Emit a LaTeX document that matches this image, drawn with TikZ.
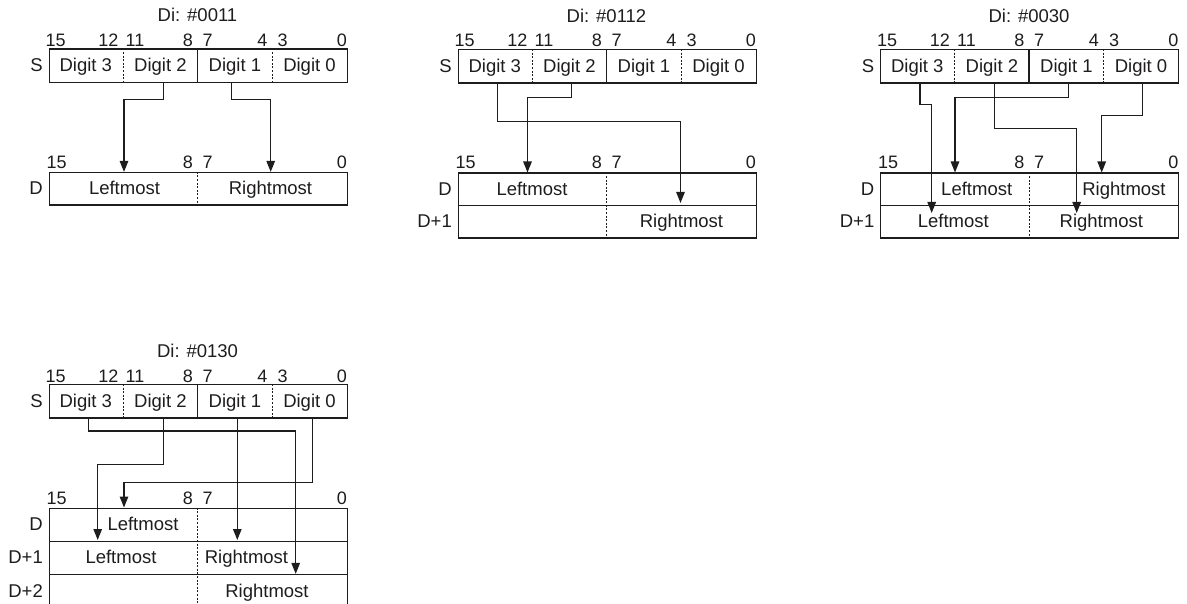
\documentclass[tikz,border=0pt]{standalone}
\usepackage{fontspec}
\setmainfont{Liberation Sans}
\usetikzlibrary{arrows.meta}
\definecolor{ink}{RGB}{30,28,28}
\tikzset{
  every node/.style={font=\fontsize{18.5}{21}\selectfont, text=ink},
  ln/.style={draw=ink, line width=1.3pt},
  regbox/.style={draw=ink, line width=1.3pt, minimum width=298pt, minimum height=33.3pt, anchor=north west, inner sep=0},
  rowbox/.style={draw=ink, line width=1.3pt, minimum width=298pt, anchor=north west, inner sep=0},
  cell/.style={minimum width=74.5pt, minimum height=33.3pt, inner sep=0, text height=13.2pt, text depth=0pt},
  txt/.style={inner sep=0, text height=13.2pt, text depth=0pt},
  bit/.style={inner sep=0, font=\fontsize{18}{20}\selectfont},
  div/.style={draw=ink, line width=1pt, dash pattern=on 2pt off 1.6pt},
  conn/.style={draw=ink, line width=1.2pt, -{Triangle[length=11pt,width=8.5pt]}},
}
% S register: #1 prefix, #2 title
\newcommand\SregDraw[2]{%
  \node[inner sep=0, anchor=base] (#1-title) at (149,-26.5) {#2};
  \node[regbox] (#1-S) at (0,0) {};
  \node[cell] (#1-d3) at (37.3,16.65) {Digit 3};
  \node[cell] (#1-d2) at (111.9,16.65) {Digit 2};
  \node[cell] (#1-d1) at (186.4,16.65) {Digit 1};
  \node[cell] (#1-d0) at (261,16.65) {Digit 0};
  \draw[div] (74.5,0) -- (74.5,33.3);
  \draw[ln] (149,0) -- (149,33.3);
  \draw[div] (223.5,0) -- (223.5,33.3);
  \node[txt, anchor=east] (#1-Slab) at (-5.5,16.65) {S};
  \node[bit, anchor=base west] (#1-s15) at (-3,-2) {15};
  \node[bit, anchor=base east] (#1-s12) at (70,-2) {12};
  \node[bit, anchor=base west] (#1-s11) at (77,-2) {11};
  \node[bit, anchor=base east] (#1-s8) at (144.5,-2) {8};
  \node[bit, anchor=base west] (#1-s7) at (154,-2) {7};
  \node[bit, anchor=base east] (#1-s4) at (219,-2) {4};
  \node[bit, anchor=base west] (#1-s3) at (229,-2) {3};
  \node[bit, anchor=base east] (#1-s0) at (298.5,-2) {0};
  \node[bit, anchor=base west] (#1-b15) at (-2,120) {15};
  \node[bit, anchor=base east] (#1-b8) at (144.5,120) {8};
  \node[bit, anchor=base west] (#1-b7) at (154,120) {7};
  \node[bit, anchor=base east] (#1-b0) at (298.5,120) {0};
}
\begin{document}
\begin{tikzpicture}[x=1pt,y=-1pt]
\useasboundingbox (0,0) rectangle (1187,604);

% ---------- Diagram A ----------
\begin{scope}[shift={(48.5,48.4)}]
  \SregDraw{A}{Di: \#0011}
  \node[rowbox, minimum height=32.5pt] (A-r0) at (0,123.5) {};
  \draw[div] (149,123.5) -- (149,156);
  \node[txt, anchor=east] (A-l0) at (-5.5,139.75) {D};
  \node[txt] (A-lm) at (76,139.75) {Leftmost};
  \node[txt] (A-rm) at (222,139.75) {Rightmost};
  \coordinate (A-t2) at (75.5,123.5);
  \coordinate (A-t1) at (222.2,123.5);
  \draw[conn] ([xshift=2.9pt]A-d2.south) -- ++(0,17.5) -| (A-t2);
  \draw[conn] ([xshift=-3.4pt]A-d1.south) -- ++(0,17.5) -| (A-t1);
\end{scope}

% ---------- Diagram B ----------
\begin{scope}[shift={(457.5,49)}]
  \SregDraw{B}{Di: \#0112}
  \node[rowbox, minimum height=32.5pt] (B-r0) at (0,123.5) {};
  \node[rowbox, minimum height=32.5pt] (B-r1) at (0,156) {};
  \draw[div] (149,123.5) -- (149,188.5);
  \node[txt, anchor=east] (B-l0) at (-5.5,139.75) {D};
  \node[txt, anchor=east] (B-l1) at (-5.5,172.25) {D+1};
  \node[txt] (B-lm) at (74.5,139.75) {Leftmost};
  \node[txt] (B-rm) at (224,172.25) {Rightmost};
  \coordinate (B-t3) at (223,154);
  \coordinate (B-t2) at (70,123.5);
  \draw[conn] ([xshift=2.3pt]B-d3.south) -- ++(0,39.4) -| (B-t3);
  \draw[conn] ([xshift=2.1pt]B-d2.south) -- ++(0,15.4) -| (B-t2);
\end{scope}

% ---------- Diagram C ----------
\begin{scope}[shift={(880,49)}]
  \SregDraw{C}{Di: \#0030}
  \node[rowbox, minimum height=32.5pt] (C-r0) at (0,123.5) {};
  \node[rowbox, minimum height=32.5pt] (C-r1) at (0,156) {};
  \draw[div] (149,123.5) -- (149,188.5);
  \node[txt, anchor=east] (C-l0) at (-5.5,139.75) {D};
  \node[txt, anchor=east] (C-l1) at (-5.5,172.25) {D+1};
  \node[txt] (C-lm0) at (96.7,139.75) {Leftmost};
  \node[txt] (C-rm0) at (244,139.75) {Rightmost};
  \node[txt] (C-lm1) at (73.3,172.25) {Leftmost};
  \node[txt] (C-rm1) at (221.3,172.25) {Rightmost};
  \coordinate (C-t3) at (51.7,164);
  \coordinate (C-t1) at (75,123.5);
  \coordinate (C-t0) at (221.7,123.5);
  \coordinate (C-t2) at (196.7,164);
  \draw[conn] ([xshift=2.7pt]C-d3.south) -- ++(0,22) -| (C-t3);
  \draw[conn] ([xshift=1.9pt]C-d1.south) -- ++(0,15) -| (C-t1);
  \draw[conn] ([xshift=1.7pt]C-d0.south) -- ++(0,32.7) -| (C-t0);
  \draw[conn] ([xshift=2.4pt]C-d2.south) -- ++(0,46) -| (C-t2);
\end{scope}

% ---------- Diagram D ----------
\begin{scope}[shift={(48.5,384)}]
  \SregDraw{D}{Di: \#0130}
  \node[rowbox, minimum height=33.2pt] (D-r0) at (0,123.5) {};
  \node[rowbox, minimum height=33.2pt] (D-r1) at (0,156.7) {};
  \node[rowbox, minimum height=33.2pt] (D-r2) at (0,189.9) {};
  \draw[div] (149,123.5) -- (149,223.1);
  \node[txt, anchor=east] (D-l0) at (-5.5,140.1) {D};
  \node[txt, anchor=east] (D-l1) at (-5.5,173.3) {D+1};
  \node[txt, anchor=east] (D-l2) at (-5.5,206.5) {D+2};
  \node[txt] (D-lm0) at (94.5,140.1) {Leftmost};
  \node[txt] (D-lm1) at (72.5,173.3) {Leftmost};
  \node[txt] (D-rm1) at (198,173.3) {Rightmost};
  \node[txt] (D-rm2) at (218.5,206.5) {Rightmost};
  \coordinate (D-t3) at (247.2,189.9);
  \coordinate (D-t2) at (49.2,156);
  \coordinate (D-t1) at (188.8,156);
  \coordinate (D-t0) at (75.5,123.5);
  \draw[conn] ([xshift=2.5pt]D-d3.south) -- ++(0,13.4) -| (D-t3);
  \draw[conn] ([xshift=2.9pt]D-d2.south) -- ++(0,46.7) -| (D-t2);
  \draw[conn] (D-d1.south -| D-t1) -- (D-t1);
  \draw[conn] ([xshift=2.6pt]D-d0.south) -- ++(0,65) -| (D-t0);
\end{scope}
\end{tikzpicture}
\end{document}
